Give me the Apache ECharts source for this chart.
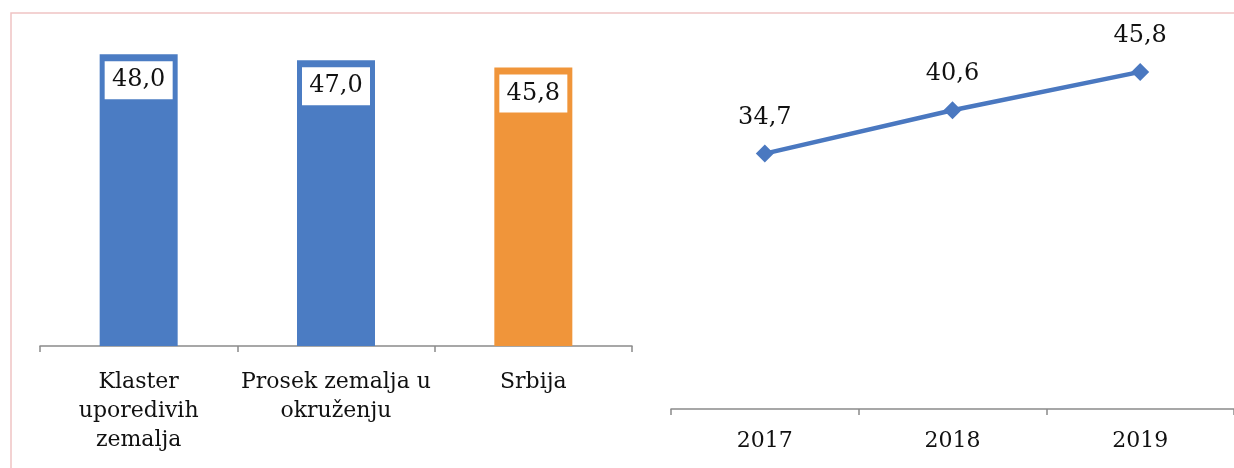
<!DOCTYPE html>
<html>
<head>
<meta charset="utf-8">
<style>html,body{margin:0;padding:0;background:#fff;}#c{width:1234px;height:468px;}</style>
<script src="https://cdn.jsdelivr.net/npm/echarts@6/dist/echarts.min.js"></script>
</head>
<body>
<div id="c"></div>
<script>
var barCategories = ['Klaster\nuporedivih\nzemalja', 'Prosek zemalja u\nokruženju', 'Srbija'];
var barValues = [48.0, 47.0, 45.8];
var barColors = ['#4b7cc3', '#4b7cc3', '#f0953a'];
var lineCategories = ['2017', '2018', '2019'];
var lineValues = [34.7, 40.6, 45.8];

var serif = 'DejaVu Serif';
var chart = echarts.init(document.getElementById('c'));
function fmt(p){ return p.value.toFixed(1).replace('.', ','); }
chart.setOption({
  animation: false,
  backgroundColor: '#fff',
  graphic: [{
    type: 'polyline',
    shape: { points: [[11, 468], [11, 13], [1234, 13]] },
    style: { stroke: '#f0c4c4', lineWidth: 1.5, fill: null },
    silent: true
  }],
  grid: [
    { left: 40, width: 592, top: 42, bottom: 122 },
    { left: 671, width: 567, top: 41, bottom: 59 }
  ],
  xAxis: [{
    type: 'category', gridIndex: 0, data: barCategories,
    axisLine: { show: true, lineStyle: { color: '#8a8a8a', width: 1.5 } },
    axisTick: { show: true, length: 6, lineStyle: { color: '#8a8a8a', width: 1.5 } },
    axisLabel: { color: '#111', fontFamily: serif, fontSize: 22, lineHeight: 29, margin: 22, interval: 0 }
  }, {
    type: 'category', gridIndex: 1, data: lineCategories,
    axisLine: { show: true, lineStyle: { color: '#8a8a8a', width: 1.5 } },
    axisTick: { show: true, length: 6, lineStyle: { color: '#8a8a8a', width: 1.5 } },
    axisLabel: { color: '#111', fontFamily: serif, fontSize: 22, margin: 21 }
  }],
  yAxis: [
    { type: 'value', gridIndex: 0, min: 0, max: 50, show: false, splitLine: { show: false } },
    { type: 'value', gridIndex: 1, min: 0, max: 50, show: false, splitLine: { show: false } }
  ],
  series: [{
    type: 'bar', xAxisIndex: 0, yAxisIndex: 0, barWidth: 78,
    data: barValues.map(function (v, i) { return { value: v, itemStyle: { color: barColors[i] } }; }),
    label: {
      show: true, position: 'insideTop', distance: 7, formatter: fmt,
      backgroundColor: '#fff', width: 68, height: 38, lineHeight: 38, align: 'center',
      color: '#111', fontFamily: serif, fontSize: 24
    }
  }, {
    type: 'line', xAxisIndex: 1, yAxisIndex: 1, data: lineValues,
    symbol: 'diamond', symbolSize: 18,
    lineStyle: { color: '#4a78c0', width: 4.5 },
    itemStyle: { color: '#4a78c0' },
    label: { show: true, position: 'top', distance: 15, formatter: fmt, color: '#111', fontFamily: serif, fontSize: 24 }
  }]
});
</script>
</body>
</html>
